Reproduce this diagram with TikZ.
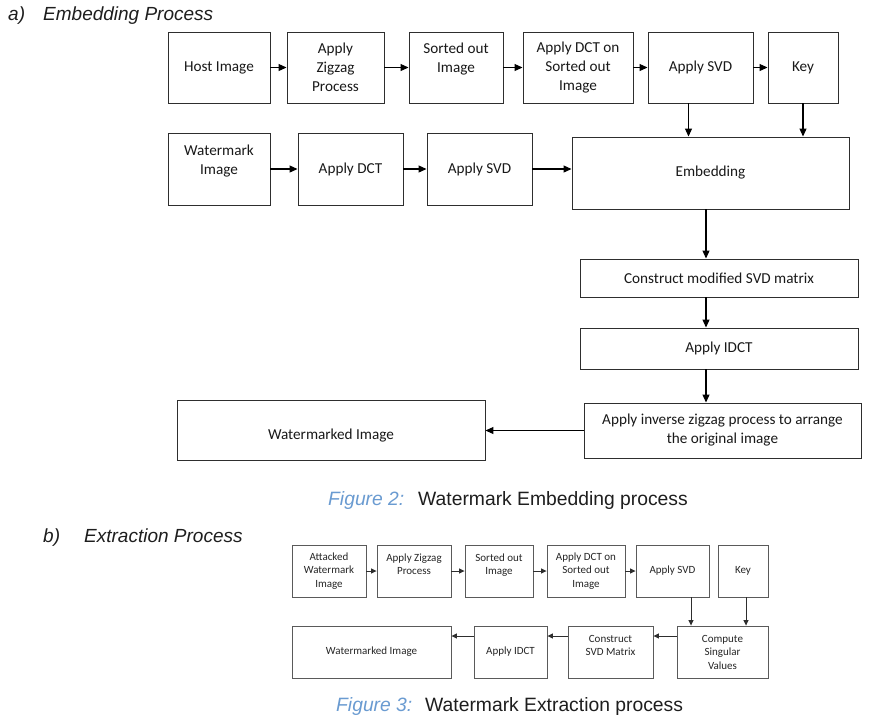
\documentclass[tikz,border=0pt]{standalone}
\usepackage{fontspec}
\setmainfont{Carlito}
\newfontfamily\hfont{Liberation Sans}
\usetikzlibrary{arrows.meta}
\definecolor{lnc}{HTML}{2E2E2E}
\definecolor{slnc}{HTML}{5A5A5A}
\definecolor{capblue}{HTML}{6A9BD1}
\definecolor{captxt}{HTML}{1E1E1E}
\newcommand{\bx}[7][box]{%
  \node[#1,minimum width={(#5)-(#3)},minimum height={(#6)-(#4)}] (#2)
    at ({((#3)+(#5))/2},{((#4)+(#6))/2}) {#7};}
\begin{document}
\begin{tikzpicture}[x=1pt,y=-1pt,
  box/.style={draw=lnc,line width=0.95pt,inner sep=0pt,align=center,text=black!90,
    font=\fontsize{15.2}{19}\selectfont},
  sbox/.style={draw=slnc,line width=0.85pt,inner sep=0pt,align=center,text=black!85,
    font=\fontsize{11}{13.5}\selectfont},
  arr/.style={-{Triangle[length=8pt,width=7pt]},line width=1.1pt,draw=black},
  sarr/.style={-{Triangle[length=5.5pt,width=5pt]},line width=0.9pt,draw=lnc},
  headtxt/.style={font=\hfont\itshape\fontsize{19}{23}\selectfont,text=captxt,anchor=base west,inner sep=0pt},
  captxt/.style={font=\hfont\fontsize{19.3}{23}\selectfont,text=captxt,anchor=base west,inner sep=0pt},
  capitxt/.style={font=\hfont\itshape\fontsize{19.3}{23}\selectfont,text=capblue,anchor=base west,inner sep=0pt}]
\useasboundingbox[fill=white] (0,0) rectangle (870,721);

% headings and captions
\node[headtxt] (ha) at (8,20) {a)};
\node[headtxt] (hat) at (43,20) {Embedding Process};
\node[headtxt] (hb) at (43,542) {b)};
\node[headtxt] (hbt) at (84,542) {Extraction Process};
\node[capitxt] (c2a) at (328,505) {Figure 2:};
\node[captxt] (c2b) at (418,505) {Watermark Embedding process};
\node[capitxt] (c3a) at (336,711) {Figure 3:};
\node[captxt] (c3b) at (425,711) {Watermark Extraction process};

% embedding process
\bx{host}{168}{32}{270}{103}{Host Image}
\bx{zig}{287}{32}{384}{103}{Apply\\Zigzag\\Process}
\bx{sorted}{409}{32}{503}{103}{Sorted out\\Image\\~}
\bx{dct}{523}{32}{633}{103}{Apply DCT on\\Sorted out\\Image}
\bx{svd}{648}{32}{753}{103}{Apply SVD}
\bx{key}{768}{32}{838}{103}{Key}
\bx{wm}{168}{133}{270}{205}{Watermark\\Image\\~}
\bx{wdct}{298}{133}{403}{205}{Apply DCT}
\bx{wsvd}{427}{133}{532}{205}{Apply SVD}
\bx{emb}{572}{137}{849}{209}{Embedding}
\bx{cons}{580}{259}{858}{297}{Construct modified SVD matrix}
\bx{idct}{580}{328}{858}{369}{Apply IDCT}
\bx{inv}{584}{403}{861}{458}{Apply inverse zigzag process to arrange\\the original image}
\bx{out}{177}{400}{485}{460}{\raisebox{-6pt}[\height][\depth]{Watermarked Image}}

\draw[arr] (host) -- (zig);
\draw[arr] (zig) -- (sorted);
\draw[arr] (sorted) -- (dct);
\draw[arr] (dct) -- (svd);
\draw[arr] (svd) -- (key);
\draw[arr] (wm) -- (wdct);
\draw[arr] (wdct) -- (wsvd);
\draw[arr] (wsvd.east) -- (wsvd.east -| emb.west);
\coordinate (p1) at ([xshift=-12pt]svd.south);
\draw[arr] (p1) -- (p1 |- emb.north);
\draw[arr] (key.south) -- (key.south |- emb.north);
\coordinate (cx) at (706,0);
\draw[arr] (emb.south -| cx) -- (cons.north -| cx);
\draw[arr] (cons.south -| cx) -- (idct.north -| cx);
\draw[arr] (idct.south -| cx) -- (inv.north -| cx);
\draw[arr] (inv.west) -- (inv.west -| out.east);

% extraction process
\bx[sbox]{att}{292}{545}{366}{597}{Attacked\\Watermark\\Image}
\bx[sbox]{bzig}{377}{545}{451}{597}{Apply Zigzag\\Process\\~}
\bx[sbox]{bsort}{465}{545}{533}{597}{Sorted out\\Image\\~}
\bx[sbox]{bdct}{547}{545}{625}{597}{Apply DCT on\\Sorted out\\Image}
\bx[sbox]{bsvd}{636}{545}{709}{597}{Apply SVD}
\bx[sbox]{bkey}{718}{545}{768}{597}{Key}
\bx[sbox]{bout}{292}{626}{451}{678}{Watermarked Image}
\bx[sbox]{bidct}{474}{626}{547}{678}{Apply IDCT}
\bx[sbox]{bcons}{568}{626}{653}{678}{Construct\\SVD Matrix\\~}
\bx[sbox]{bcomp}{677}{626}{768}{678}{Compute\\Singular\\Values}

\draw[sarr] (att) -- (bzig);
\draw[sarr] (bzig) -- (bsort);
\draw[sarr] (bsort) -- (bdct);
\draw[sarr] (bdct) -- (bsvd);
\coordinate (q1) at ([xshift=18.5pt]bsvd.south);
\draw[sarr] (q1) -- (q1 |- bcomp.north);
\coordinate (q2) at ([xshift=3pt]bkey.south);
\draw[sarr] (q2) -- (q2 |- bcomp.north);
\coordinate (ry) at (0,636);
\draw[sarr] (bcomp.west |- ry) -- (bcons.east |- ry);
\draw[sarr] (bcons.west |- ry) -- (bidct.east |- ry);
\draw[sarr] (bidct.west |- ry) -- (bout.east |- ry);
\end{tikzpicture}
\end{document}
